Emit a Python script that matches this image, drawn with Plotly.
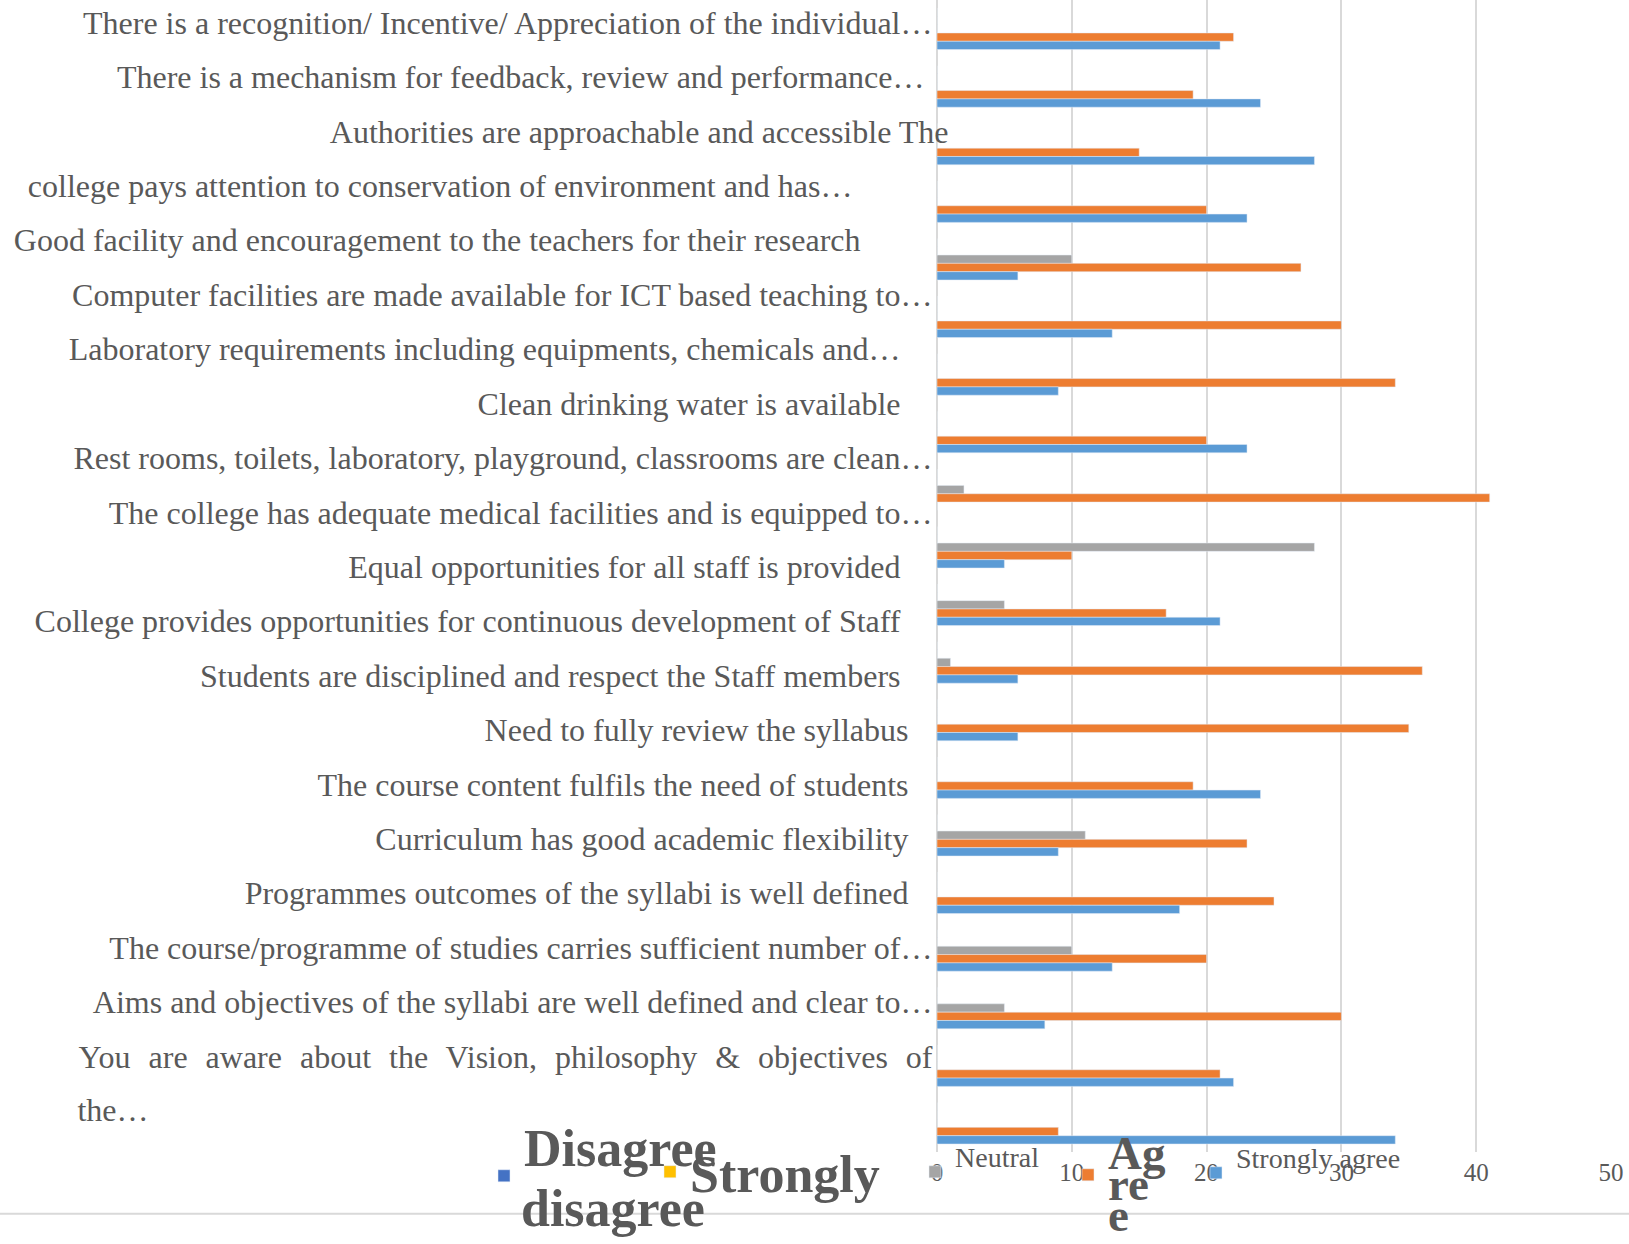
import plotly.graph_objects as go

# ---------------- data (top to bottom as shown) ----------------
categories = [
    "There is a recognition/ Incentive/ Appreciation of the individual…",
    "There is a mechanism for feedback, review and performance…",
    "Authorities are approachable and accessible The",
    "college pays attention to conservation of environment and has…",
    "Good facility and encouragement to the teachers for their research",
    "Computer facilities are made available for ICT based teaching to…",
    "Laboratory requirements including equipments, chemicals and…",
    "Clean drinking water is available",
    "Rest rooms, toilets, laboratory, playground, classrooms are clean…",
    "The college has adequate medical facilities and is equipped to…",
    "Equal opportunities for all staff is provided",
    "College provides opportunities for continuous development of Staff",
    "Students are disciplined and respect the Staff members",
    "Need to fully review the syllabus",
    "The course content fulfils the need of students",
    "Curriculum has good academic flexibility",
    "Programmes outcomes of the syllabi is well defined",
    "The course/programme of studies carries sufficient number of…",
    "Aims and objectives of the syllabi are well defined and clear to…",
    "You are aware about the Vision, philosophy & objectives of the…",
]
disagree          = [0] * 20
strongly_disagree = [0] * 20
neutral        = [0, 0, 0, 0, 10, 0, 0, 0, 2, 28, 5, 1, 0, 0, 11, 0, 10, 5, 0, 0]
agree          = [22, 19, 15, 20, 27, 30, 34, 20, 41, 10, 17, 36, 35, 19, 23, 25, 20, 30, 21, 9]
strongly_agree = [21, 24, 28, 23, 6, 13, 9, 23, 0, 5, 21, 6, 6, 24, 9, 18, 13, 8, 22, 34]
x_ticks = [0, 10, 20, 30, 40, 50]

# ---------------- layout / style ----------------
W, H = 1629, 1244
L, R, T, B = 937, 1611, 0, 1158
FONT = "Liberation Serif"
TXT = "#595959"
GRID = "#d9d9d9"
NB = "\u00a0"

def px_x(px):
    return (px - L) / (R - L)

def px_y(py):
    return (B - py) / (B - T)

# trailing padding (in no-break spaces) so each label ends where it does in the picture
label_pad = [2, 3, 0, 12, 11, 2, 6, 6, 2, 2, 6, 6, 6, 5, 5, 5, 5, 2, 2, 2]
label_top_px, label_step_px, wrap_step_px = 22.7, 54.7, 54.0
wrap_pad = 100

ticktext, tickvals = [], []
for i, (c, p) in enumerate(zip(categories, label_pad)):
    if i == len(categories) - 1:
        first, last = c.rsplit(" ", 1)
        ticktext.append('<span style="word-spacing:10px">' + first + "</span>" + NB * p)
        tickvals.append(i)
        ticktext.append(last + NB * wrap_pad)
        tickvals.append(i + wrap_step_px / label_step_px)
    else:
        ticktext.append(c + NB * p)
        tickvals.append(i)

y2_range = [(B - label_top_px) / label_step_px, (T - label_top_px) / label_step_px]

series = [
    ("Disagree", disagree, "#4472C4", "legend"),
    ("Strongly disagree", strongly_disagree, "#FFC000", "legend2"),
    ("Neutral", neutral, "#A5A5A5", "legend3"),
    ("Agree", agree, "#ED7D31", "legend4"),
    ("Strongly agree", strongly_agree, "#5B9BD5", "legend5"),
]
BIG = 'style="font-size:52px;font-weight:bold"'
AGR = 'style="font-size:47px;font-weight:bold"'
MID = 'style="font-size:28px"'
legend_names = {
    "Disagree": f"<span {BIG}>Disagree</span><br>" + NB,
    "Strongly disagree": "<b>Strongly</b>",
    "Neutral": f"<span {MID}>Neutral</span><br>" + NB,
    "Agree": NB + f"<br><span {AGR}>Ag</span><br><span {AGR}>re</span><br><span {AGR}>e</span>",
    "Strongly agree": f"<span {MID}>Strongly agree</span><br>" + NB,
}

fig = go.Figure()
for name, vals, color, lg in series:
    fig.add_trace(go.Bar(
        y=categories, x=vals, orientation="h", name=legend_names[name],
        marker=dict(color=color), legend=lg, hoverinfo="x+y",
    ))
# helper trace so that the label axis is drawn
fig.add_trace(go.Scatter(x=[None], y=[None], yaxis="y2", showlegend=False,
                         hoverinfo="skip", mode="markers"))

legend_marker_px = {"legend": 504, "legend2": 670, "legend3": 935, "legend4": 1088, "legend5": 1216}
legend_marker_py = {"legend": 1182, "legend2": 1178, "legend3": 1178, "legend4": 1181, "legend5": 1179}
legend_font = {
    "legend": dict(family=FONT, size=38, color=TXT),
    "legend2": dict(family=FONT, size=52, color=TXT),
    "legend3": dict(family=FONT, size=18, color=TXT),
    "legend4": dict(family=FONT, size=24, color=TXT),
    "legend5": dict(family=FONT, size=18, color=TXT),
}
legends = {}
for lg, mx in legend_marker_px.items():
    legends[lg] = dict(
        x=px_x(mx - 20), y=px_y(legend_marker_py[lg]), xanchor="left", yanchor="middle",
        bgcolor="rgba(0,0,0,0)", font=legend_font[lg], valign="middle",
        borderwidth=0,
    )

fig.update_layout(
    width=W, height=H,
    margin=dict(l=L, r=W - R, t=T, b=H - B),
    paper_bgcolor="white", plot_bgcolor="white",
    barmode="group", bargap=0.278, bargroupgap=0,
    font=dict(family=FONT, color=TXT),
    xaxis=dict(range=[0, 50], tickvals=x_ticks, showgrid=True, gridcolor=GRID, gridwidth=1.5,
               zeroline=True, zerolinecolor=GRID, zerolinewidth=1.5, showline=False,
               ticks="", ticklabelstandoff=3,
               tickfont=dict(family=FONT, size=25, color=TXT)),
    yaxis=dict(type="category", categoryorder="array", categoryarray=categories,
               autorange="reversed", showticklabels=False, showgrid=False,
               zeroline=False, showline=False, ticks=""),
    yaxis2=dict(overlaying="y", anchor="free", position=px_x(948.5), side="left",
                range=y2_range, tickmode="array", tickvals=tickvals, ticktext=ticktext,
                showgrid=False, zeroline=False, showline=False, ticks="",
                tickfont=dict(family=FONT, size=32, color=TXT)),
    showlegend=True,
    **legends,
    annotations=[dict(text="<b>disagree</b>", x=px_x(519), y=px_y(1184), xref="paper", yref="paper",
                      xanchor="left", yanchor="top", showarrow=False,
                      font=dict(family=FONT, size=52, color=TXT))],
    shapes=[dict(type="line", xref="paper", yref="paper", x0=px_x(0), x1=px_x(W),
                 y0=px_y(1220), y1=px_y(1220), line=dict(color=GRID, width=2))],
)

fig.write_html(
    "out.html", config={"displayModeBar": False},
    post_script=("document.body.style.margin='0px';"
                 "document.body.style.overflow='hidden';"
                 "document.documentElement.style.overflow='hidden';"),
)
